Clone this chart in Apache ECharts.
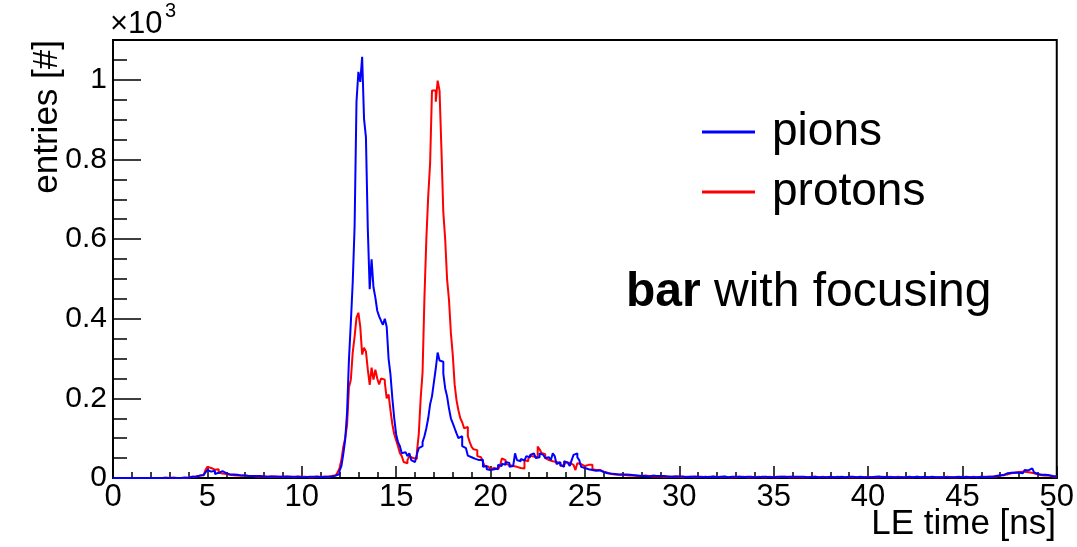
<!DOCTYPE html>
<html>
<head>
<meta charset="utf-8">
<title>LE time</title>
<script src="https://cdn.jsdelivr.net/npm/echarts@6/dist/echarts.min.js"></script>
<style>
  html, body { margin: 0; padding: 0; background: #fff; }
  #chart { width: 1077px; height: 547px; }
</style>
</head>
<body>
<div id="chart"></div>
<script>
// histogram binning: 500 bins of 0.1 ns from 0 to 50 ns
const binWidth = 0.1;
const xMin = 0;
const xMax = 50;

// entries per bin, one line = 1 ns (10 bins)
const pionsCounts = [
  0, 0, 0, 0, 0, 0, 0, 0, 0, 0,
  2, 0, 0, 0, 0, 0, 0, 0, 1, 0,
  0, 0, 0, 0, 1, 0, 0, 0, 0, 0,
  0, 0, 1, 0, 0, 0, 0, 1, 0, 0,
  2, 3, 4, 3, 5, 6, 5, 7, 10, 14,
  20, 16, 12, 18, 10, 13, 14, 17, 15, 12,
  10, 9, 8, 9, 7, 8, 7, 6, 7, 6,
  6, 5, 6, 5, 4, 5, 4, 5, 4, 4,
  4, 3, 4, 4, 3, 4, 3, 3, 4, 3,
  3, 4, 3, 3, 2, 3, 4, 3, 3, 2,
  3, 2, 3, 3, 2, 3, 2, 3, 3, 2,
  2, 3, 2, 3, 3, 4, 5, 6, 8, 10,
  18, 30, 60, 96, 164, 297, 390, 491, 632, 945,
  1020, 995, 1058, 902, 856, 625, 474, 549, 479, 453,
  420, 406, 395, 385, 400, 380, 300, 260, 200, 150,
  110, 90, 80, 62, 65, 60, 55, 62, 45, 40,
  40, 60, 75, 80, 90, 105, 125, 150, 185, 205,
  240, 275, 315, 295, 292, 262, 225, 205, 175, 150,
  138, 125, 112, 100, 105, 80, 75, 70, 56, 52,
  50, 48, 52, 45, 42, 46, 28, 30, 22, 20,
  24, 22, 26, 24, 33, 30, 36, 33, 40, 38,
  28, 30, 26, 62, 45, 42, 48, 44, 46, 55,
  52, 58, 62, 60, 50, 52, 62, 58, 54, 50,
  52, 48, 45, 62, 55, 35, 40, 33, 28, 42,
  38, 35, 30, 45, 58, 62, 52, 45, 28, 25,
  24, 22, 25, 20, 22, 18, 17, 19, 16, 15,
  14, 12, 13, 11, 12, 10, 11, 9, 10, 9,
  8, 9, 7, 8, 6, 7, 8, 6, 7, 5,
  6, 5, 6, 4, 5, 6, 4, 5, 4, 5,
  4, 5, 3, 4, 5, 3, 4, 4, 3, 4,
  3, 4, 3, 2, 4, 3, 3, 4, 2, 3,
  3, 2, 4, 3, 3, 2, 3, 4, 3, 2,
  3, 3, 2, 4, 3, 2, 3, 3, 2, 3,
  2, 3, 3, 2, 4, 3, 2, 3, 3, 2,
  3, 2, 3, 3, 2, 3, 4, 2, 3, 2,
  2, 3, 2, 3, 3, 2, 2, 3, 2, 3,
  4, 3, 2, 3, 2, 3, 2, 2, 3, 2,
  2, 3, 2, 2, 3, 2, 3, 2, 2, 3,
  2, 2, 3, 2, 2, 3, 2, 2, 2, 3,
  2, 3, 2, 2, 2, 3, 2, 2, 3, 2,
  3, 2, 2, 3, 2, 4, 3, 2, 2, 3,
  2, 2, 3, 2, 2, 2, 3, 2, 2, 2,
  2, 3, 2, 2, 2, 3, 2, 2, 2, 3,
  2, 2, 2, 3, 2, 2, 2, 2, 3, 2,
  2, 2, 3, 2, 2, 2, 2, 3, 2, 2,
  2, 3, 2, 2, 3, 2, 2, 2, 3, 3,
  3, 2, 3, 3, 4, 3, 4, 5, 6, 7,
  8, 7, 9, 12, 11, 13, 15, 14, 16, 13,
  14, 12, 15, 20, 19, 22, 24, 20, 14, 10,
  9, 8, 7, 8, 6, 7, 6, 5, 5, 4
];

const protonsCounts = [
  0, 0, 0, 0, 0, 0, 0, 0, 0, 0,
  0, 0, 0, 0, 0, 0, 0, 0, 0, 0,
  0, 0, 0, 0, 0, 0, 0, 1, 0, 0,
  0, 1, 0, 0, 0, 0, 1, 0, 2, 1,
  2, 3, 3, 4, 5, 6, 5, 8, 12, 20,
  28, 25, 22, 21, 20, 22, 13, 11, 12, 10,
  9, 8, 8, 7, 8, 6, 7, 6, 5, 6,
  5, 5, 4, 5, 4, 4, 5, 4, 3, 4,
  4, 3, 3, 4, 3, 3, 4, 3, 3, 3,
  3, 3, 2, 3, 3, 2, 3, 4, 3, 3,
  2, 3, 3, 2, 3, 2, 3, 4, 3, 3,
  3, 3, 4, 3, 4, 5, 5, 7, 10, 14,
  25, 45, 78, 100, 133, 227, 247, 315, 355, 403,
  415, 380, 310, 327, 318, 272, 234, 277, 247, 272,
  250, 235, 250, 247, 240, 200, 210, 170, 135, 110,
  95, 80, 62, 55, 40, 37, 45, 55, 50, 45,
  48, 65, 110, 200, 265, 453, 599, 708, 790, 973,
  973, 945, 998, 973, 826, 667, 599, 499, 448, 365,
  310, 235, 195, 170, 150, 140, 125, 128, 105, 90,
  78, 72, 70, 55, 52, 56, 40, 30, 28, 24,
  22, 25, 24, 22, 26, 30, 49, 45, 35, 33,
  36, 30, 32, 28, 30, 25, 27, 24, 45, 42,
  48, 56, 54, 58, 52, 79, 72, 63, 60, 50,
  45, 47, 42, 37, 40, 35, 38, 30, 33, 28,
  40, 38, 35, 33, 37, 20, 37, 35, 33, 30,
  35, 33, 30, 33, 22, 20, 18, 20, 15, 16,
  14, 13, 12, 10, 11, 9, 10, 8, 9, 8,
  8, 7, 8, 6, 7, 6, 7, 5, 6, 5,
  5, 6, 4, 5, 5, 4, 5, 4, 3, 4,
  4, 3, 4, 3, 4, 3, 3, 4, 3, 3,
  3, 2, 4, 3, 2, 3, 3, 2, 4, 3,
  2, 3, 3, 2, 3, 3, 2, 3, 2, 3,
  3, 2, 2, 3, 3, 2, 3, 2, 3, 2,
  2, 3, 2, 3, 2, 2, 3, 2, 3, 2,
  2, 3, 2, 2, 3, 2, 2, 3, 2, 2,
  3, 2, 2, 3, 2, 4, 2, 2, 3, 2,
  2, 2, 3, 2, 3, 2, 4, 2, 2, 3,
  2, 3, 2, 2, 2, 3, 2, 2, 3, 2,
  2, 2, 2, 3, 2, 2, 3, 2, 2, 2,
  3, 2, 2, 2, 3, 2, 2, 2, 2, 3,
  2, 2, 3, 2, 2, 2, 2, 3, 2, 2,
  2, 3, 2, 2, 2, 3, 2, 2, 2, 2,
  3, 2, 2, 2, 2, 3, 2, 2, 2, 2,
  2, 2, 3, 2, 2, 2, 3, 2, 2, 2,
  2, 3, 2, 2, 2, 2, 3, 2, 2, 3,
  2, 2, 3, 2, 2, 3, 2, 2, 2, 3,
  2, 3, 2, 3, 3, 3, 4, 4, 5, 6,
  6, 8, 7, 9, 10, 12, 11, 13, 12, 15,
  14, 16, 18, 15, 17, 14, 13, 12, 10, 9,
  8, 7, 8, 6, 5, 6, 5, 4, 4, 3
];

const seriesNames = ['pions', 'protons'];
const seriesColors = ['#0000ff', '#ff0000'];

const font = 'Liberation Sans, Arial, Helvetica, sans-serif';

// histogram outline: each bin contributes its left and right edge at its height
function toSteps(counts) {
  const pts = [];
  counts.forEach((v, i) => {
    const lo = +(xMin + i * binWidth).toFixed(2);
    const hi = +(xMin + (i + 1) * binWidth).toFixed(2);
    pts.push([lo, v], [hi, v]);
  });
  return pts;
}

const chart = echarts.init(document.getElementById('chart'));

const option = {
  backgroundColor: '#fff',
  animation: false,
  grid: {
    left: 113, right: 19, top: 40, bottom: 69,
    show: true, borderColor: '#000', borderWidth: 2
  },
  legend: {
    orient: 'vertical',
    left: 697,
    top: 97,
    itemWidth: 53,
    itemHeight: 3,
    itemGap: 0,
    icon: 'rect',
    data: seriesNames,
    textStyle: {
      fontFamily: font, fontSize: 46, color: '#000',
      lineHeight: 60, padding: [0, 0, 0, 12]
    }
  },
  xAxis: {
    type: 'value',
    min: xMin,
    max: xMax,
    interval: 5,
    axisLine: { show: true, lineStyle: { color: '#000', width: 2 } },
    axisTick: { show: true, inside: true, length: 12, lineStyle: { color: '#000', width: 1.5 } },
    minorTick: { show: true, splitNumber: 5, length: 6, lineStyle: { color: '#000', width: 1.5 } },
    splitLine: { show: false },
    axisLabel: { fontFamily: font, fontSize: 31, color: '#000', margin: 4 }
  },
  yAxis: {
    type: 'value',
    min: 0,
    max: 1100,
    interval: 200,
    axisLine: { show: true, lineStyle: { color: '#000', width: 2 } },
    axisTick: { show: true, inside: true, length: 28, lineStyle: { color: '#000', width: 1.5 } },
    minorTick: { show: true, splitNumber: 4, length: 14, lineStyle: { color: '#000', width: 1.5 } },
    splitLine: { show: false },
    axisLabel: {
      fontFamily: font, fontSize: 30, color: '#000', margin: 6,
      showMaxLabel: false,
      formatter: v => (v === 0 ? '0' : String(v / 1000))
    }
  },
  series: [
    {
      name: 'protons',
      type: 'line',
      symbol: 'none',
      z: 2,
      data: toSteps(protonsCounts),
      itemStyle: { color: seriesColors[1] },
      lineStyle: { color: seriesColors[1], width: 2 }
    },
    {
      name: 'pions',
      type: 'line',
      symbol: 'none',
      z: 3,
      data: toSteps(pionsCounts),
      itemStyle: { color: seriesColors[0] },
      lineStyle: { color: seriesColors[0], width: 2 }
    }
  ],
  graphic: [
    {
      type: 'text', left: 110, top: 9,
      style: { text: '\u00d710', font: '31px ' + font, fill: '#000' }
    },
    {
      type: 'text', left: 165, top: 1,
      style: { text: '3', font: '20px ' + font, fill: '#000' }
    },
    {
      type: 'text', x: 47, y: 40, rotation: Math.PI / 2,
      style: {
        text: 'entries [#]', font: '35px ' + font, fill: '#000',
        align: 'right', verticalAlign: 'middle'
      }
    },
    {
      type: 'text', x: 1056, y: 524,
      style: {
        text: 'LE time [ns]', font: '35px ' + font, fill: '#000',
        align: 'right', verticalAlign: 'middle'
      }
    },
    {
      type: 'text', x: 626, y: 293,
      style: {
        text: '{b|bar}{n| with focusing}',
        verticalAlign: 'middle',
        rich: {
          b: { fontFamily: font, fontSize: 48, fontWeight: 'bold', fill: '#000' },
          n: { fontFamily: font, fontSize: 48, fill: '#000' }
        }
      }
    }
  ]
};

chart.setOption(option);
</script>
</body>
</html>
